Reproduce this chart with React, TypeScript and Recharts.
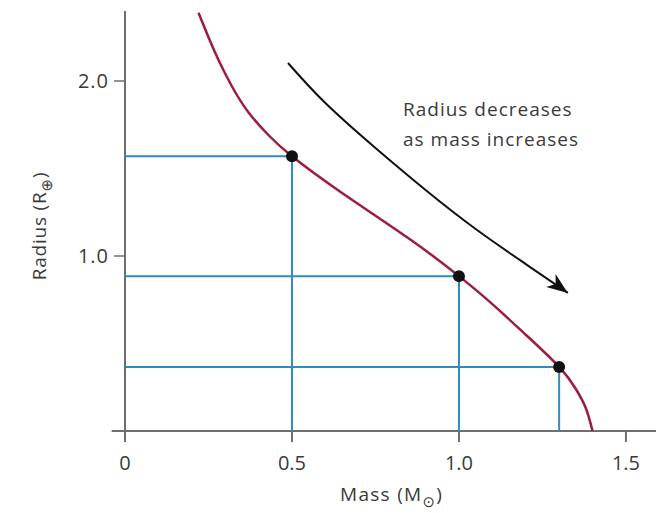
import React from 'react';
import { ComposedChart, Line, XAxis, YAxis, ReferenceLine } from 'recharts';

// mass-radius relation
const curveMass = [0.22, 0.25, 0.28, 0.32, 0.37, 0.43, 0.5, 0.65, 0.85, 1.0, 1.1, 1.2, 1.3, 1.35, 1.38, 1.4];
const curveRadius = [2.39, 2.25, 2.12, 1.97, 1.82, 1.69, 1.57, 1.36, 1.1, 0.885, 0.725, 0.55, 0.366, 0.24, 0.13, 0];

// highlighted stars
const starMass = [0.5, 1.0, 1.3];
const starRadius = [1.57, 0.885, 0.366];

// annotation arrow path
const arrowMass = [0.488, 0.6, 0.75, 0.9, 1.05, 1.2, 1.326];
const arrowRadius = [2.103, 1.874, 1.617, 1.377, 1.154, 0.954, 0.789];

const massTicks = [0, 0.5, 1.0, 1.5];
const radiusTicks = [1.0, 2.0];

const curveData = curveMass.map((m, i) => ({ m, r: curveRadius[i] }));
const starData = starMass.map((m, i) => ({ m, r: starRadius[i] }));
const arrowData = arrowMass.map((m, i) => ({ m, r: arrowRadius[i] }));

const FONT = "'Open Sans', 'DejaVu Sans', sans-serif";
const AXIS = '#6e6e6e';
const TEXT = '#3a3a3a';
const BLUE = '#2f8bc0';
const RED = '#9d1c40';

const ArrowHead = (props: any) => {
  const { cx, cy, index } = props;
  if (index !== arrowData.length - 1) return <g key={`a-${index}`} />;
  return (
    <path
      key="arrow-head"
      d="M0,0 L-21,-8 L-15,0 L-21,8 Z"
      transform={`translate(${cx},${cy}) rotate(36)`}
      fill="#111"
    />
  );
};

export default function App() {
  return (
    <div style={{ position: 'absolute', left: 0, top: 0, background: '#fff' }}>
      <ComposedChart width={656} height={513} margin={{ top: 11, right: 0, bottom: 0, left: 0 }}>
        <XAxis
          dataKey="m"
          type="number"
          domain={[0, 1.59]}
          ticks={massTicks}
          tickFormatter={(v: number) => (v === 0 ? '0' : v.toFixed(1))}
          axisLine={false}
          tickLine={{ stroke: AXIS, strokeWidth: 2 }}
          tickSize={11}
          tickMargin={14}
          height={82}
          tick={{ fill: TEXT, fontSize: 20, fontFamily: FONT }}
          allowDataOverflow
        />
        <YAxis
          dataKey="r"
          type="number"
          domain={[0, 2.4]}
          ticks={radiusTicks}
          tickFormatter={(v: number) => v.toFixed(1)}
          axisLine={{ stroke: AXIS, strokeWidth: 2 }}
          tickLine={{ stroke: AXIS, strokeWidth: 1.5 }}
          tickSize={11}
          tickMargin={5}
          width={125}
          tick={{ fill: TEXT, fontSize: 20, fontFamily: FONT, letterSpacing: 1 }}
          allowDataOverflow
        />
        <ReferenceLine
          segment={[{ x: -0.04, y: 0 }, { x: 1.59, y: 0 }]}
          stroke={AXIS}
          strokeWidth={2}
          ifOverflow="visible"
        />
        {starData.map((p, i) => (
          <ReferenceLine
            key={`h-${i}`}
            segment={[{ x: 0, y: p.r }, { x: p.m, y: p.r }]}
            stroke={BLUE}
            strokeWidth={2}
            ifOverflow="visible"
          />
        ))}
        {starData.map((p, i) => (
          <ReferenceLine
            key={`v-${i}`}
            segment={[{ x: p.m, y: 0 }, { x: p.m, y: p.r }]}
            stroke={BLUE}
            strokeWidth={2}
            ifOverflow="visible"
          />
        ))}
        <Line
          data={curveData}
          dataKey="r"
          type="natural"
          stroke={RED}
          strokeWidth={2.5}
          dot={false}
          isAnimationActive={false}
        />
        <Line
          data={arrowData}
          dataKey="r"
          type="natural"
          stroke="#111"
          strokeWidth={2}
          dot={ArrowHead}
          isAnimationActive={false}
        />
        <Line
          data={starData}
          dataKey="r"
          stroke="none"
          dot={{ r: 6, fill: '#111', stroke: 'none' }}
          isAnimationActive={false}
        />
        <text x={403} y={116} fill={TEXT} fontSize={19} letterSpacing={1} fontFamily={FONT}>
          Radius decreases
        </text>
        <text x={403} y={146} fill={TEXT} fontSize={19} letterSpacing={1} fontFamily={FONT}>
          as mass increases
        </text>
        <text x={340} y={501} fill={TEXT} fontSize={19} letterSpacing={1.3} fontFamily={FONT}>
          Mass (M
          <tspan fontSize={15} dy={6}>⊙</tspan>
          <tspan dy={-6}>)</tspan>
        </text>
        <text
          x={46}
          y={226}
          fill={TEXT}
          fontSize={19}
          letterSpacing={0.8}
          fontFamily={FONT}
          textAnchor="middle"
          transform="rotate(-90, 46, 226)"
        >
          Radius (R
          <tspan fontSize={15} dy={6}>⊕</tspan>
          <tspan dy={-6}>)</tspan>
        </text>
      </ComposedChart>
    </div>
  );
}
